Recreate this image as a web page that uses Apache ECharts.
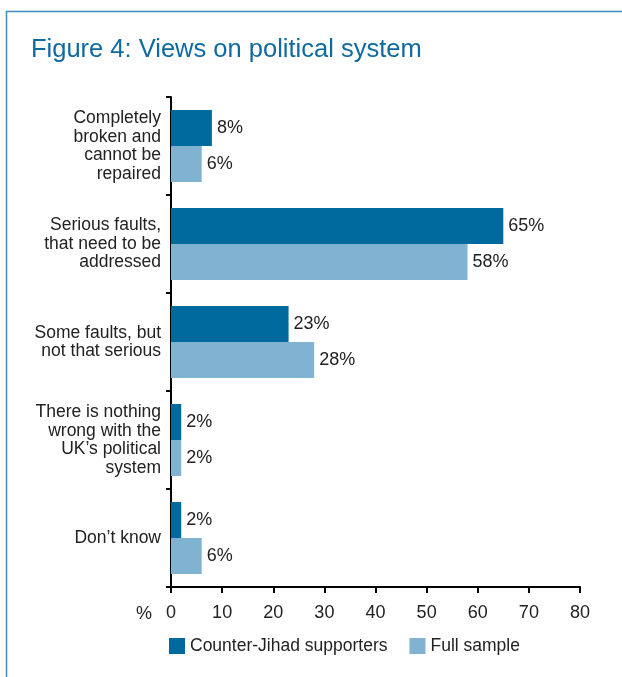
<!DOCTYPE html>
<html><head><meta charset="utf-8">
<script src="https://cdn.jsdelivr.net/npm/echarts@6/dist/echarts.min.js"></script>
<style>html,body{margin:0;padding:0;background:#fff}#c{width:622px;height:677px}</style>
</head><body><div id="c"></div>
<script>
var categories = [
  "Completely\nbroken and\ncannot be\nrepaired",
  "Serious faults,\nthat need to be\naddressed",
  "Some faults, but\nnot that serious",
  "There is nothing\nwrong with the\nUK\u2019s political\nsystem",
  "Don\u2019t know"
];
var counterJihad = [8, 65, 23, 2, 2];
var fullSample = [6, 58, 28, 2, 6];
var seriesNames = ["Counter-Jihad supporters", "Full sample"];
var xTicks = [0, 10, 20, 30, 40, 50, 60, 70, 80];

var FONT = "Liberation Sans";
var chart = echarts.init(document.getElementById('c'), null, {renderer: 'canvas'});
var labelCfg = {show: true, position: 'right', distance: 5, formatter: '{c}%', color: '#222', fontSize: 18, fontFamily: FONT};
chart.setOption({
  animation: false,
  textStyle: {fontFamily: FONT},
  title: {text: "Figure 4: Views on political system", left: 26, top: 32,
    textStyle: {color: '#0f6aa0', fontSize: 25.5, fontWeight: 'normal', fontFamily: FONT}},
  grid: {left: 171, right: 42, top: 97, bottom: 90, containLabel: false},
  legend: {data: seriesNames, left: 164, top: 632, itemWidth: 16, itemHeight: 16, itemGap: 22, icon: 'rect',
    textStyle: {color: '#222', fontSize: 17.5, fontFamily: FONT}},
  xAxis: {type: 'value', min: xTicks[0], max: xTicks[xTicks.length - 1], interval: 10,
    axisLine: {show: true, lineStyle: {color: '#000', width: 2}},
    axisTick: {show: true, length: 6, lineStyle: {color: '#000', width: 2}},
    axisLabel: {color: '#222', fontSize: 18, margin: 17, fontFamily: FONT},
    splitLine: {show: false}},
  yAxis: {type: 'category', data: categories, inverse: true,
    axisLine: {show: true, lineStyle: {color: '#000', width: 2}},
    axisTick: {show: true, length: 5, lineStyle: {color: '#000', width: 2}},
    axisLabel: {color: '#222', fontSize: 17.5, lineHeight: 18.5, margin: 10, align: 'right', fontFamily: FONT}},
  series: [
    {name: seriesNames[0], type: 'bar', data: counterJihad, barWidth: 36, barGap: '0%',
      itemStyle: {color: '#006a9e'}, label: labelCfg},
    {name: seriesNames[1], type: 'bar', data: fullSample, barWidth: 36, barGap: '0%',
      itemStyle: {color: '#80b2d1'}, label: labelCfg}
  ],
  graphic: [
    {type: 'polyline', shape: {points: [[6.5, 677], [6.5, 11.5], [622, 11.5]]}, style: {stroke: '#3d8cbf', lineWidth: 1.5, fill: null}},
    {type: 'text', left: 136, top: 605, style: {text: '%', fill: '#222', fontSize: 18, fontFamily: FONT}}
  ]
});
</script></body></html>
